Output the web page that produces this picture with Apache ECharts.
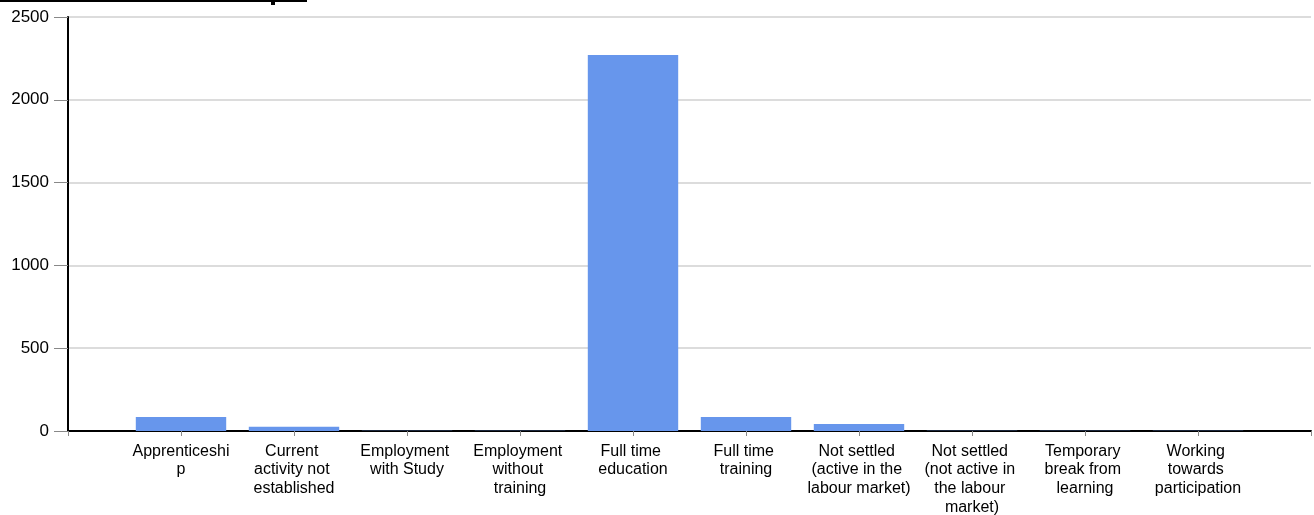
<!DOCTYPE html>
<html>
<head>
<meta charset="utf-8">
<script src="https://cdn.jsdelivr.net/npm/echarts@6/dist/echarts.min.js"></script>
<style>html,body{margin:0;padding:0;background:#fff;}#c{width:1314px;height:515px;}</style>
</head>
<body>
<div id="c"></div>
<script>
const categories = ['', 'Apprenticeship', 'Current activity not established', 'Employment with Study', 'Employment without training', 'Full time education', 'Full time training', 'Not settled (active in the labour market)', 'Not settled (not active in the labour market)', 'Temporary break from learning', 'Working towards participation', ''];
const values = [null, 85, 26, 2, 2, 2270, 84, 42, 2, 2, 2, null];
const yTicks = [0, 500, 1000, 1500, 2000, 2500];

const chart = echarts.init(document.getElementById('c'), null, {renderer: 'canvas'});
chart.setOption({
  animation: false,
  grid: {left: 68, right: 3, top: 17, bottom: 84, containLabel: false, outerBoundsMode: 'none'},
  graphic: [
    {type: 'line', shape: {x1: 0, y1: 1, x2: 307, y2: 1}, style: {stroke: '#000', lineWidth: 2}},
    {type: 'rect', shape: {x: 271, y: 1, width: 4, height: 4}, style: {fill: '#000'}}
  ],
  xAxis: {
    type: 'category',
    data: categories,
    boundaryGap: false,
    axisLine: {lineStyle: {color: '#000', width: 2}},
    axisTick: {show: true, interval: 0, length: 5, lineStyle: {color: '#888', width: 1}},
    axisLabel: {
      interval: 0, color: '#000', fontFamily: 'Liberation Sans, Arial, sans-serif', fontSize: 16,
      width: 105, overflow: 'break', lineHeight: 18.7, margin: 11, align: 'center'
    },
    splitLine: {show: false}
  },
  yAxis: {
    type: 'value',
    min: 0, max: 2500, interval: 500,
    axisLine: {show: true, lineStyle: {color: '#000', width: 2}},
    axisTick: {show: true, length: 14, lineStyle: {color: '#888', width: 1}},
    axisLabel: {color: '#000', fontFamily: 'Liberation Sans, Arial, sans-serif', fontSize: 17, margin: 19,
      formatter: v => yTicks.includes(v) ? String(v) : ''},
    splitLine: {lineStyle: {color: '#dcdcdc', width: 2}}
  },
  series: [{
    type: 'bar',
    data: values,
    barWidth: '80%',
    itemStyle: {color: '#6796ec'}
  }]
});
</script>
</body>
</html>
